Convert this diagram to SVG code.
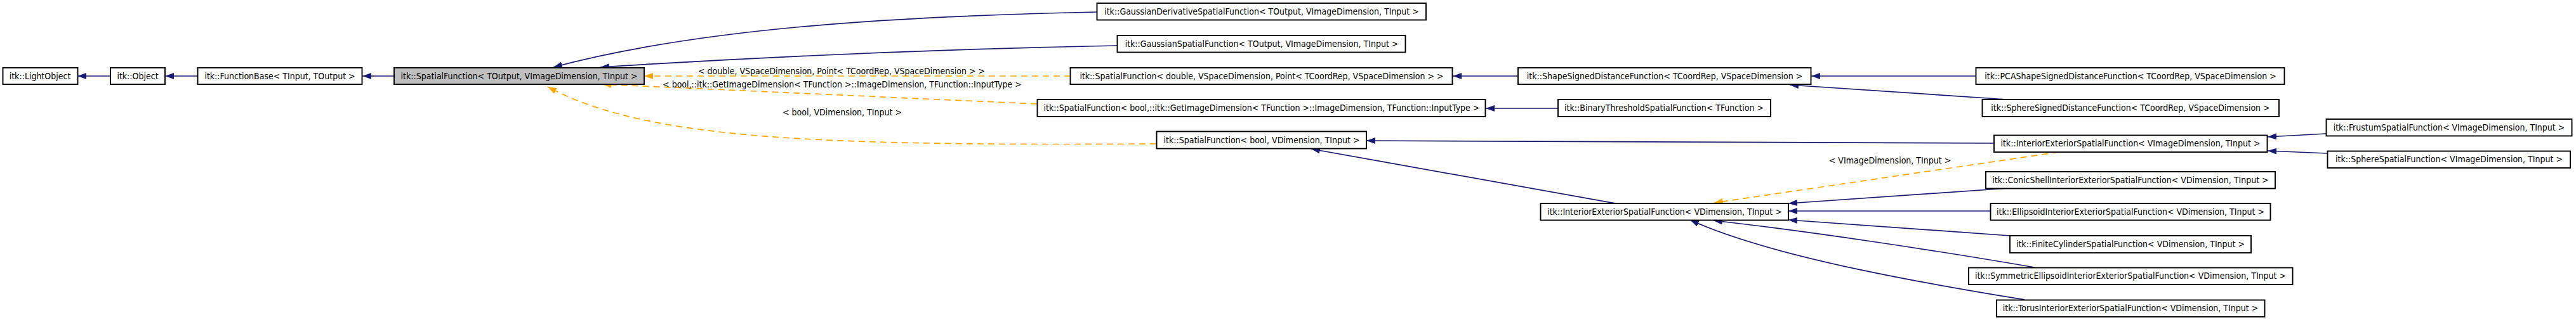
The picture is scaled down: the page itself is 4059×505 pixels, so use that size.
<svg xmlns="http://www.w3.org/2000/svg" width="4059" height="505" viewBox="0 0 4059 505">
<style>
.n rect{fill:#fff;stroke:#000;stroke-width:1.9}
.n.cur rect{fill:#bfbfbf}
text{font-family:"DejaVu Sans Condensed","Liberation Sans",Arial,sans-serif;font-size:14px;fill:#000}
.n text{text-anchor:middle}
.e{fill:none;stroke:#191970;stroke-width:1.7}
.t{fill:none;stroke:#ffa500;stroke-width:1.7;stroke-dasharray:10,7}
.lbl{text-anchor:middle}
</style>
<defs>
<marker id="ab" viewBox="0 0 14 10" refX="14" refY="5" markerWidth="14" markerHeight="10" orient="auto" markerUnits="userSpaceOnUse"><path d="M0,0 L14,5 L0,10 z" fill="#191970"/></marker>
<marker id="ao" viewBox="0 0 14 10" refX="14" refY="5" markerWidth="14" markerHeight="10" orient="auto" markerUnits="userSpaceOnUse"><path d="M0,0 L14,5 L0,10 z" fill="#ffa500"/></marker>
</defs>
<rect width="4059" height="505" fill="#fff"/>
<g id="edges">
<path class="e" marker-end="url(#ab)" d="M174,120 L122,120"/>
<path class="e" marker-end="url(#ab)" d="M311,120 L260,120"/>
<path class="e" marker-end="url(#ab)" d="M621,120 L571,120"/>
<path class="e" marker-end="url(#ab)" d="M1728,19 C1400,26 1100,45 872,106"/>
<path class="e" marker-end="url(#ab)" d="M1760,72 C1500,77 1200,90 946,106"/>
<path class="e" marker-end="url(#ab)" d="M2392,120 L2289,120"/>
<path class="e" marker-end="url(#ab)" d="M2455,171 L2341,171"/>
<path class="e" marker-end="url(#ab)" d="M3113,120 L2854,120"/>
<path class="e" marker-end="url(#ab)" d="M3162,157 L2820,134"/>
<path class="e" marker-end="url(#ab)" d="M3142,226 L2153,222"/>
<path class="e" marker-end="url(#ab)" d="M3665,211 L3573,216"/>
<path class="e" marker-end="url(#ab)" d="M3667,242 L3573,238"/>
<path class="e" marker-end="url(#ab)" d="M2546,321 L2066,235"/>
<path class="e" marker-end="url(#ab)" d="M3164,297 L2818,321"/>
<path class="e" marker-end="url(#ab)" d="M3137,333 L2818,333"/>
<path class="e" marker-end="url(#ab)" d="M3167,372 L2818,347"/>
<path class="e" marker-end="url(#ab)" d="M3206,422 C3050,395 2850,365 2700,348"/>
<path class="e" marker-end="url(#ab)" d="M3190,473 C3080,455 2800,410 2663,347"/>
<path class="t" marker-end="url(#ao)" d="M1687,120 L1015,120"/>
<path class="t" marker-end="url(#ao)" d="M1634,164 L949,133"/>
<path class="t" marker-end="url(#ao)" d="M1822,227 C1300,230 1020,222 863,137"/>
<path class="t" marker-end="url(#ao)" d="M3244,240 L2701,320"/>
<text class="lbl" x="1326" y="117">&lt; double, VSpaceDimension, Point&lt; TCoordRep, VSpaceDimension &gt; &gt;</text>
<text class="lbl" x="1327" y="138">&lt; bool,::itk::GetImageDimension&lt; TFunction &gt;::ImageDimension, TFunction::InputType &gt;</text>
<text class="lbl" x="1327" y="182">&lt; bool, VDimension, TInput &gt;</text>
<text class="lbl" x="2978" y="258">&lt; VImageDimension, TInput &gt;</text>
</g>
<g id="n_lightobject" class="n"><rect x="4.5" y="107" width="118" height="26"/><text x="63" y="125">itk::LightObject</text></g>
<g id="n_object" class="n"><rect x="174" y="107" width="86" height="26"/><text x="217" y="125">itk::Object</text></g>
<g id="n_functionbase" class="n"><rect x="311.5" y="107" width="259" height="26"/><text x="441" y="125">itk::FunctionBase&lt; TInput, TOutput &gt;</text></g>
<g id="n_spatialfunction" class="n cur"><rect x="621" y="107" width="394" height="26"/><text x="818" y="125">itk::SpatialFunction&lt; TOutput, VImageDimension, TInput &gt;</text></g>
<g id="n_gaussderiv" class="n"><rect x="1728.5" y="5" width="518.5" height="26.5"/><text x="1988" y="23">itk::GaussianDerivativeSpatialFunction&lt; TOutput, VImageDimension, TInput &gt;</text></g>
<g id="n_gaussian" class="n"><rect x="1760.5" y="56" width="454" height="26.5"/><text x="1988" y="74">itk::GaussianSpatialFunction&lt; TOutput, VImageDimension, TInput &gt;</text></g>
<g id="n_sf_double" class="n"><rect x="1686.5" y="107" width="602" height="26"/><text x="1988" y="125">itk::SpatialFunction&lt; double, VSpaceDimension, Point&lt; TCoordRep, VSpaceDimension &gt; &gt;</text></g>
<g id="n_sf_bool_itk" class="n"><rect x="1634.5" y="157" width="706" height="27"/><text x="1988" y="175">itk::SpatialFunction&lt; bool,::itk::GetImageDimension&lt; TFunction &gt;::ImageDimension, TFunction::InputType &gt;</text></g>
<g id="n_sf_bool_vdim" class="n"><rect x="1822.5" y="207.5" width="330.5" height="27"/><text x="1988" y="226">itk::SpatialFunction&lt; bool, VDimension, TInput &gt;</text></g>
<g id="n_shapesigned" class="n"><rect x="2392" y="107" width="461.5" height="26"/><text x="2623" y="125">itk::ShapeSignedDistanceFunction&lt; TCoordRep, VSpaceDimension &gt;</text></g>
<g id="n_binary" class="n"><rect x="2455" y="157" width="335" height="27"/><text x="2622" y="175">itk::BinaryThresholdSpatialFunction&lt; TFunction &gt;</text></g>
<g id="n_ie_vdim" class="n"><rect x="2427.5" y="321" width="390.5" height="26.5"/><text x="2623" y="339">itk::InteriorExteriorSpatialFunction&lt; VDimension, TInput &gt;</text></g>
<g id="n_pca" class="n"><rect x="3113.5" y="107" width="486" height="26"/><text x="3357" y="125">itk::PCAShapeSignedDistanceFunction&lt; TCoordRep, VSpaceDimension &gt;</text></g>
<g id="n_spheresigned" class="n"><rect x="3123.5" y="157" width="467.5" height="27"/><text x="3357" y="175">itk::SphereSignedDistanceFunction&lt; TCoordRep, VSpaceDimension &gt;</text></g>
<g id="n_ie_vimage" class="n"><rect x="3142" y="213.5" width="430.5" height="26.5"/><text x="3357" y="231">itk::InteriorExteriorSpatialFunction&lt; VImageDimension, TInput &gt;</text></g>
<g id="n_conicshell" class="n"><rect x="3129" y="271" width="456" height="26.5"/><text x="3357" y="289">itk::ConicShellInteriorExteriorSpatialFunction&lt; VDimension, TInput &gt;</text></g>
<g id="n_ellipsoid" class="n"><rect x="3136.5" y="321" width="441" height="26.5"/><text x="3357" y="339">itk::EllipsoidInteriorExteriorSpatialFunction&lt; VDimension, TInput &gt;</text></g>
<g id="n_finitecylinder" class="n"><rect x="3167" y="372" width="380" height="27"/><text x="3357" y="390">itk::FiniteCylinderSpatialFunction&lt; VDimension, TInput &gt;</text></g>
<g id="n_symmetric" class="n"><rect x="3102" y="422.5" width="510.5" height="26.5"/><text x="3357" y="440">itk::SymmetricEllipsoidInteriorExteriorSpatialFunction&lt; VDimension, TInput &gt;</text></g>
<g id="n_torus" class="n"><rect x="3146" y="473.5" width="422.5" height="26.5"/><text x="3357" y="491">itk::TorusInteriorExteriorSpatialFunction&lt; VDimension, TInput &gt;</text></g>
<g id="n_frustum" class="n"><rect x="3665.5" y="188" width="387" height="26.5"/><text x="3859" y="206">itk::FrustumSpatialFunction&lt; VImageDimension, TInput &gt;</text></g>
<g id="n_spherespatial" class="n"><rect x="3667.5" y="238.5" width="382.5" height="26.5"/><text x="3859" y="256">itk::SphereSpatialFunction&lt; VImageDimension, TInput &gt;</text></g>
</svg>
